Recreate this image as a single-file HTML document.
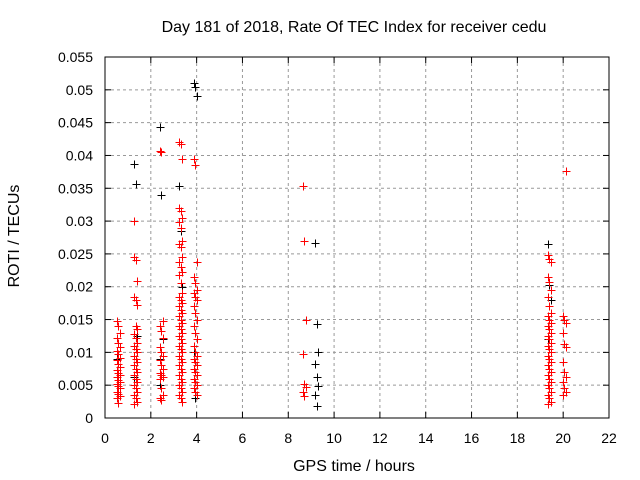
<!DOCTYPE html>
<html><head><meta charset="utf-8"><style>
body{margin:0;background:#fff;}
svg{display:block;font-family:"Liberation Sans",Arial,sans-serif;}
</style></head><body>
<svg id="chart" width="640" height="480" viewBox="0 0 640 480">
<rect width="640" height="480" fill="#fff"/>
<text x="354" y="32" font-size="16" text-anchor="middle">Day 181 of 2018, Rate Of TEC Index for receiver cedu</text>
<text x="354" y="471" font-size="16" text-anchor="middle">GPS time / hours</text>
<text transform="translate(19,236) rotate(-90)" font-size="16" text-anchor="middle">ROTI / TECUs</text>
<g id="grid"></g><g id="ticks"></g><g id="black" shape-rendering="crispEdges"></g><g id="red" shape-rendering="crispEdges"></g>
<rect x="105" y="57" width="504" height="361" fill="none" stroke="#000" stroke-width="1"/>
</svg>
<script>
const xTicks=[0,2,4,6,8,10,12,14,16,18,20,22];
const yTicks=[0,0.005,0.01,0.015,0.02,0.025,0.03,0.035,0.04,0.045,0.05,0.055];
const yTickLabels=["0","0.005","0.01","0.015","0.02","0.025","0.03","0.035","0.04","0.045","0.05","0.055"];
const redHours=[0.57,1.35,2.45,3.3,3.95,8.7,19.4,20.05,20.2];
const redValues=[
[0.0148,0.0140,0.0130,0.0122,0.0115,0.0108,0.0102,0.0097,0.0092,0.0088,0.0082,0.0078,0.0073,0.0068,0.0065,0.0062,0.0058,0.0055,0.0052,0.0048,0.0045,0.0040,0.0036,0.0033,0.0030,0.0023],
[0.0245,0.0240,0.0208,0.0185,0.0180,0.0172,0.030,0.014,0.0135,0.0128,0.0122,0.0115,0.011,0.0105,0.010,0.0095,0.009,0.0085,0.008,0.0075,0.007,0.0065,0.006,0.0055,0.005,0.0045,0.004,0.0035,0.003,0.0025,0.0022],
[0.0407,0.0405,0.0148,0.0140,0.0133,0.0122,0.0108,0.0100,0.0095,0.0088,0.0080,0.0075,0.0068,0.0065,0.0062,0.006,0.0045,0.0035,0.003,0.0027],
[0.0420,0.0417,0.0395,0.0320,0.0315,0.0305,0.0298,0.0290,0.0270,0.0265,0.026,0.0245,0.0238,0.023,0.0222,0.0218,0.0205,0.019,0.0185,0.018,0.0175,0.017,0.0165,0.016,0.0155,0.015,0.0145,0.014,0.0135,0.013,0.0125,0.012,0.0115,0.011,0.0105,0.010,0.0095,0.009,0.0085,0.008,0.0075,0.007,0.0065,0.006,0.0055,0.005,0.0045,0.004,0.0035,0.003,0.0025],
[0.0395,0.0385,0.0237,0.0215,0.0205,0.0195,0.019,0.0185,0.018,0.017,0.016,0.015,0.014,0.013,0.012,0.011,0.010,0.0095,0.009,0.0085,0.008,0.0075,0.007,0.0065,0.006,0.0055,0.005,0.0045,0.004,0.0035],
[0.0353,0.0270,0.0150,0.0098,0.0052,0.0047,0.0040,0.0033],
[0.0248,0.0243,0.0237,0.0215,0.0207,0.0195,0.0185,0.017,0.016,0.0155,0.015,0.0145,0.014,0.0135,0.013,0.0125,0.012,0.0115,0.011,0.0105,0.010,0.0095,0.009,0.0085,0.008,0.0075,0.007,0.0065,0.006,0.0055,0.005,0.0045,0.004,0.0035,0.003,0.0025,0.0022],
[0.0155,0.015,0.0145,0.013,0.0113,0.0108,0.0085,0.007,0.0062,0.0055,0.0045,0.004,0.0035],
[0.0377]];
const blackHours=[1.35,2.45,3.3,3.95,9.25,19.4,0.57,2.45,3.95];
const blackValues=[
[0.0387,0.0356,0.0125,0.0062],
[0.0443,0.0340,0.0120,0.0090],
[0.0353,0.0285,0.0200,0.0110],
[0.0510,0.0505,0.0490,0.0100,0.0030],
[0.0267,0.0143,0.0100,0.0083,0.0062,0.0048,0.0035,0.0018],
[0.0265,0.0203,0.0180,0.0120],
[0.0090],[0.0050],[0.0060]];
const NS="http://www.w3.org/2000/svg";
const X0=105,X1=609,Y0=418,Y1=57;
function xs(v){return X0+(v-0)/(22-0)*(X1-X0);}
function ys(v){return Y0-(v-0)/(0.055-0)*(Y0-Y1);}
function mk(t,a,p){const e=document.createElementNS(NS,t);for(const k in a)e.setAttribute(k,a[k]);p.appendChild(e);return e;}
const grid=document.getElementById('grid'),ticks=document.getElementById('ticks');
xTicks.forEach((t,i)=>{const x=xs(t);
 if(i>0&&i<xTicks.length-1){const g=mk('line',{x1:x,x2:x,y1:Y1,y2:Y0,stroke:'#999','stroke-dasharray':'3,3'},grid);
 
 }
 mk('line',{x1:x,x2:x,y1:Y0,y2:Y0-6,stroke:'#000'},ticks);mk('line',{x1:x,x2:x,y1:Y1,y2:Y1+6,stroke:'#000'},ticks);
 const l=mk('text',{x:x,y:443,'font-size':14,'text-anchor':'middle'},ticks);l.textContent=String(t);
 
 });
yTicks.forEach((t,i)=>{const y=ys(t);
 if(i>0&&i<yTicks.length-1){const g=mk('line',{x1:X0,x2:X1,y1:y,y2:y,stroke:'#999','stroke-dasharray':'3,3'},grid);
 
 }
 mk('line',{x1:X0,x2:X0+6,y1:y,y2:y,stroke:'#000'},ticks);mk('line',{x1:X1,x2:X1-6,y1:y,y2:y,stroke:'#000'},ticks);
 const l=mk('text',{x:93,y:y+5,'font-size':14,'text-anchor':'end'},ticks);l.textContent=yTickLabels[i];
 
 });
function draw(hours,vals,color,gid,name){const g=document.getElementById(gid);
 hours.forEach((h,c)=>vals[c].forEach((v,i)=>{const x=Math.round(xs(h)+((i%3)-1)*1.5)+0.5,y=Math.round(ys(v))+0.5;
  const p=mk('path',{d:`M${x-4} ${y}H${x+4}M${x} ${y-4}V${y+4}`,stroke:color,'stroke-width':1,fill:'none'},g);
  
  }));}
draw(blackHours,blackValues,'#000','black','black-point');
draw(redHours,redValues,'#f00','red','red-point');
</script>
</body></html>
